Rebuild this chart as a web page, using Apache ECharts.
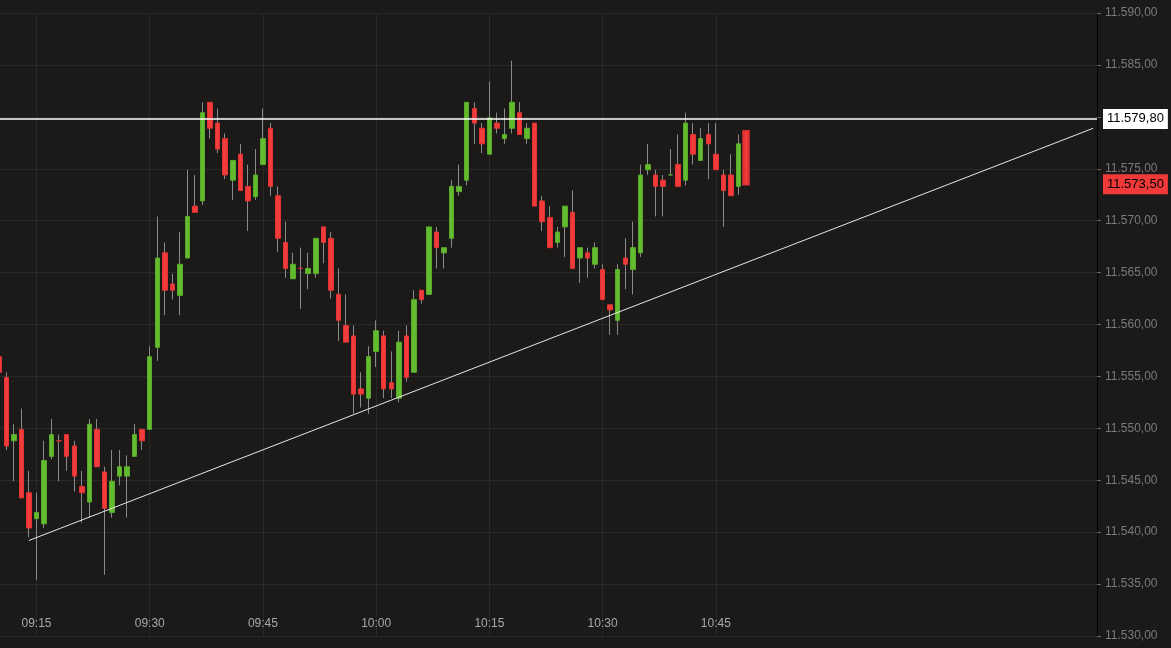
<!DOCTYPE html>
<html>
<head>
<meta charset="utf-8">
<script src="https://cdn.jsdelivr.net/npm/echarts@6/dist/echarts.min.js"></script>
<style>
html,body{margin:0;padding:0;background:#1b1a19;overflow:hidden;}
#dataView{width:1176px;height:648px;margin-left:-5px;}
</style>
</head>
<body>
<div id="dataView"></div>
<script>
// 1分钟K线 09:10 - 10:49
var openList = [11556.9,11554.9,11548.8,11549.9,11543.8,11541.3,11540.8,11547.3,11548.8,11549.4,
	11548.3,11544.4,11542.9,11549.9,11545.8,11541.9,11545.4,11545.4,11547.3,11549.9,
	11549.9,11557.8,11566.9,11563.9,11562.8,11566.4,11571.4,11571.9,11581.4,11579.4,
	11577.9,11573.9,11576.4,11573.3,11572.3,11575.4,11578.9,11572.4,11567.9,11564.4,
	11565.4,11564.9,11564.9,11569.4,11568.3,11562.9,11559.9,11558.9,11553.8,11552.9,
	11557.4,11558.9,11554.4,11552.9,11558.9,11555.4,11563.3,11562.9,11568.9,11566.9,
	11568.3,11572.8,11573.9,11580.8,11578.9,11576.4,11579.4,11577.9,11578.9,11580.4,
	11577.9,11579.4,11571.9,11570.3,11567.9,11569.4,11570.8,11566.4,11566.9,11565.8,
	11565.3,11561.9,11560.4,11566.4,11565.3,11566.9,11574.9,11574.4,11573.9,11574.4,
	11575.4,11573.9,11578.3,11575.8,11578.3,11576.4,11574.4,11574.4,11573.3,11578.6];
var highList = [11557.5,11555.4,11550.4,11551.9,11545.9,11543.8,11548.8,11550.9,11549.4,11549.4,
	11548.8,11545.9,11550.9,11550.9,11546.3,11547.9,11547.9,11547.4,11550.4,11549.9,
	11557.9,11570.4,11567.9,11564.9,11568.9,11574.9,11574.4,11581.4,11581.4,11580.8,
	11578.4,11575.8,11577.4,11575.4,11576.9,11580.8,11579.4,11573.3,11569.9,11566.9,
	11567.4,11566.9,11568.3,11569.4,11568.9,11565.4,11562.9,11559.9,11555.4,11557.9,
	11560.4,11559.4,11557.4,11559.4,11559.9,11563.3,11563.3,11569.4,11569.4,11567.4,
	11573.9,11575.4,11581.4,11581.4,11579.4,11583.4,11580.4,11580.8,11585.4,11581.4,
	11579.4,11579.4,11572.4,11571.4,11569.4,11571.4,11572.9,11567.4,11567.4,11567.9,
	11565.8,11561.9,11565.8,11568.3,11569.9,11575.4,11577.4,11574.9,11574.4,11576.9,
	11578.3,11580.4,11579.4,11578.9,11579.4,11579.4,11574.9,11576.4,11578.3,11578.6];
var lowList = [11555.0,11547.9,11544.9,11543.3,11539.5,11535.4,11540.4,11547.0,11544.9,11545.9,
	11543.9,11540.9,11541.4,11546.3,11535.9,11541.4,11544.5,11541.4,11547.3,11547.9,
	11549.9,11556.5,11560.9,11562.4,11560.9,11566.4,11570.8,11571.5,11577.9,11576.5,
	11574.0,11572.0,11572.9,11569.0,11572.0,11575.4,11572.4,11567.0,11564.5,11564.4,
	11561.5,11563.4,11564.5,11565.9,11562.5,11558.4,11558.3,11551.4,11552.0,11551.4,
	11555.9,11552.9,11552.9,11552.5,11554.5,11555.4,11562.0,11562.9,11565.4,11565.4,
	11567.4,11572.4,11573.4,11577.4,11576.5,11576.4,11578.4,11577.4,11578.4,11578.3,
	11577.4,11571.4,11569.0,11567.4,11567.4,11566.5,11565.4,11564.0,11564.5,11565.4,
	11562.4,11559.0,11559.0,11563.4,11562.9,11566.5,11574.4,11570.4,11570.4,11574.4,
	11573.3,11573.4,11575.4,11575.8,11574.0,11574.9,11569.4,11572.4,11572.5,11573.5];
var closeList = [11555.4,11548.3,11549.4,11543.3,11540.4,11541.9,11546.9,11549.4,11548.8,11547.3,
	11545.4,11543.8,11550.4,11546.3,11542.3,11544.9,11546.3,11546.3,11549.4,11548.8,
	11556.9,11566.4,11563.3,11563.3,11565.8,11570.4,11570.8,11580.4,11578.9,11576.9,
	11574.4,11575.8,11572.9,11571.9,11574.4,11577.9,11573.3,11568.3,11565.4,11565.8,
	11565.4,11565.4,11568.3,11567.9,11563.3,11560.4,11558.3,11553.3,11553.3,11556.9,
	11559.4,11553.8,11553.8,11558.3,11554.9,11562.4,11562.4,11569.4,11567.4,11567.4,
	11573.3,11573.3,11581.4,11579.4,11577.4,11579.9,11578.9,11578.3,11581.4,11578.3,
	11578.9,11571.4,11569.9,11567.4,11568.9,11571.4,11565.4,11567.4,11566.4,11567.4,
	11562.4,11561.4,11565.3,11565.8,11567.4,11574.4,11575.4,11573.3,11573.3,11574.4,
	11573.3,11579.4,11576.4,11577.9,11577.4,11574.9,11572.9,11572.4,11577.4,11573.5];
var yTicks = [11530, 11535, 11540, 11545, 11550, 11555, 11560, 11565, 11570, 11575, 11580, 11585, 11590];
var xLabels = ['09:15', '09:30', '09:45', '10:00', '10:15', '10:30', '10:45'];
var levelLine = 11579.8;
var lastPrice = 11573.5;
var trendStart = ['09:14', 11539.2];
var trendEnd = ['11:35', 11578.9];

// 时间轴 09:10 起 146 个分钟
var timeList = [];
for (var i = 0; i < 146; i++) {
	var m = 10 + i;
	var h = 9 + Math.floor(m / 60);
	m = m % 60;
	timeList.push((h < 10 ? '0' : '') + h + ':' + (m < 10 ? '0' : '') + m);
}

function fmt(v) {
	var s = v.toFixed(2).split('.');
	return s[0].replace(/\B(?=(\d{3})+(?!\d))/g, '.') + ',' + s[1];
}
function isLabel(idx) {
	return xLabels.indexOf(timeList[idx]) >= 0;
}

var wickData = [], bodyData = [];
for (var j = 0; j < openList.length; j++) {
	wickData.push([openList[j], closeList[j], lowList[j], highList[j]]);
	var lo = Math.min(openList[j], closeList[j]), hi = Math.max(openList[j], closeList[j]);
	var item = {value: [openList[j], closeList[j], lo, hi]};
	if (j === openList.length - 1) {
		item.itemStyle = {borderWidth: 2.5};
	}
	bodyData.push(item);
}

// 竖向网格线放在时间标签中心
var vGrid = xLabels.map(function (t) {
	return {xAxis: t, lineStyle: {color: '#2a2928', width: 1, type: 'solid'}, label: {show: false}};
});

var tagLabel = {
	show: true, position: 'end', distance: 6,
	color: '#000', padding: [4, 4, 3, 4], fontSize: 13, fontFamily: 'Liberation Sans'
};

var dataViewcharts = echarts.init(document.getElementById('dataView'));
var dataViewoption = {
	backgroundColor: '#1b1a19',
	animation: false,
	grid: {left: 0, right: 74, top: 13, bottom: 12},
	xAxis: {
		type: 'category',
		data: timeList,
		boundaryGap: true,
		z: 5,
		axisLine: {show: false},
		axisTick: {show: false},
		axisLabel: {
			inside: true,
			margin: 6,
			color: '#a8a8a8',
			fontSize: 12,
			fontFamily: 'Liberation Sans',
			interval: function (idx) { return isLabel(idx); }
		},
		splitLine: {show: false}
	},
	yAxis: {
		type: 'value',
		position: 'right',
		min: yTicks[0],
		max: yTicks[yTicks.length - 1],
		interval: 5,
		axisLine: {show: true, lineStyle: {color: '#000000', width: 1}},
		axisTick: {show: true, length: 4, inside: false, lineStyle: {color: '#666'}},
		axisLabel: {
			color: '#7a7a7a',
			fontSize: 12,
			fontFamily: 'Liberation Sans',
			margin: 8,
			formatter: function (v) { return fmt(v); }
		},
		splitLine: {lineStyle: {color: '#2a2928', width: 1}}
	},
	series: [
		{
			name: 'grid',
			type: 'line',
			data: [],
			silent: true,
			z: 0,
			markLine: {silent: true, symbol: 'none', animation: false, z: 0, data: vGrid}
		},
		{
			name: 'wick',
			type: 'candlestick',
			barWidth: 1,
			z: 3,
			data: wickData,
			itemStyle: {
				color: '#8a8a8a', color0: '#8a8a8a',
				borderColor: '#8a8a8a', borderColor0: '#8a8a8a', borderWidth: 1
			},
			markLine: {
				silent: true,
				symbol: 'none',
				animation: false,
				z: 6,
				data: [
					{
						yAxis: levelLine,
						lineStyle: {color: '#ffffff', width: 1.5, type: 'solid'},
						label: Object.assign({}, tagLabel, {formatter: fmt(levelLine), backgroundColor: '#ffffff'})
					},
					{
						yAxis: lastPrice,
						lineStyle: {color: 'rgba(0,0,0,0)', width: 1, type: 'solid'},
						label: Object.assign({}, tagLabel, {formatter: fmt(lastPrice), backgroundColor: '#f03a3a'})
					},
					[
						{coord: trendStart, lineStyle: {color: '#e8e8e8', width: 1, type: 'solid'}, label: {show: false}},
						{coord: trendEnd}
					]
				]
			}
		},
		{
			name: 'body',
			type: 'candlestick',
			barWidth: 5,
			z: 4,
			data: bodyData,
			itemStyle: {
				color: '#63bb2f', color0: '#f23b3b',
				borderColor: '#58a82a', borderColor0: '#e03232', borderWidth: 1
			}
		}
	]
};
dataViewcharts.setOption(dataViewoption);
</script>
</body>
</html>
